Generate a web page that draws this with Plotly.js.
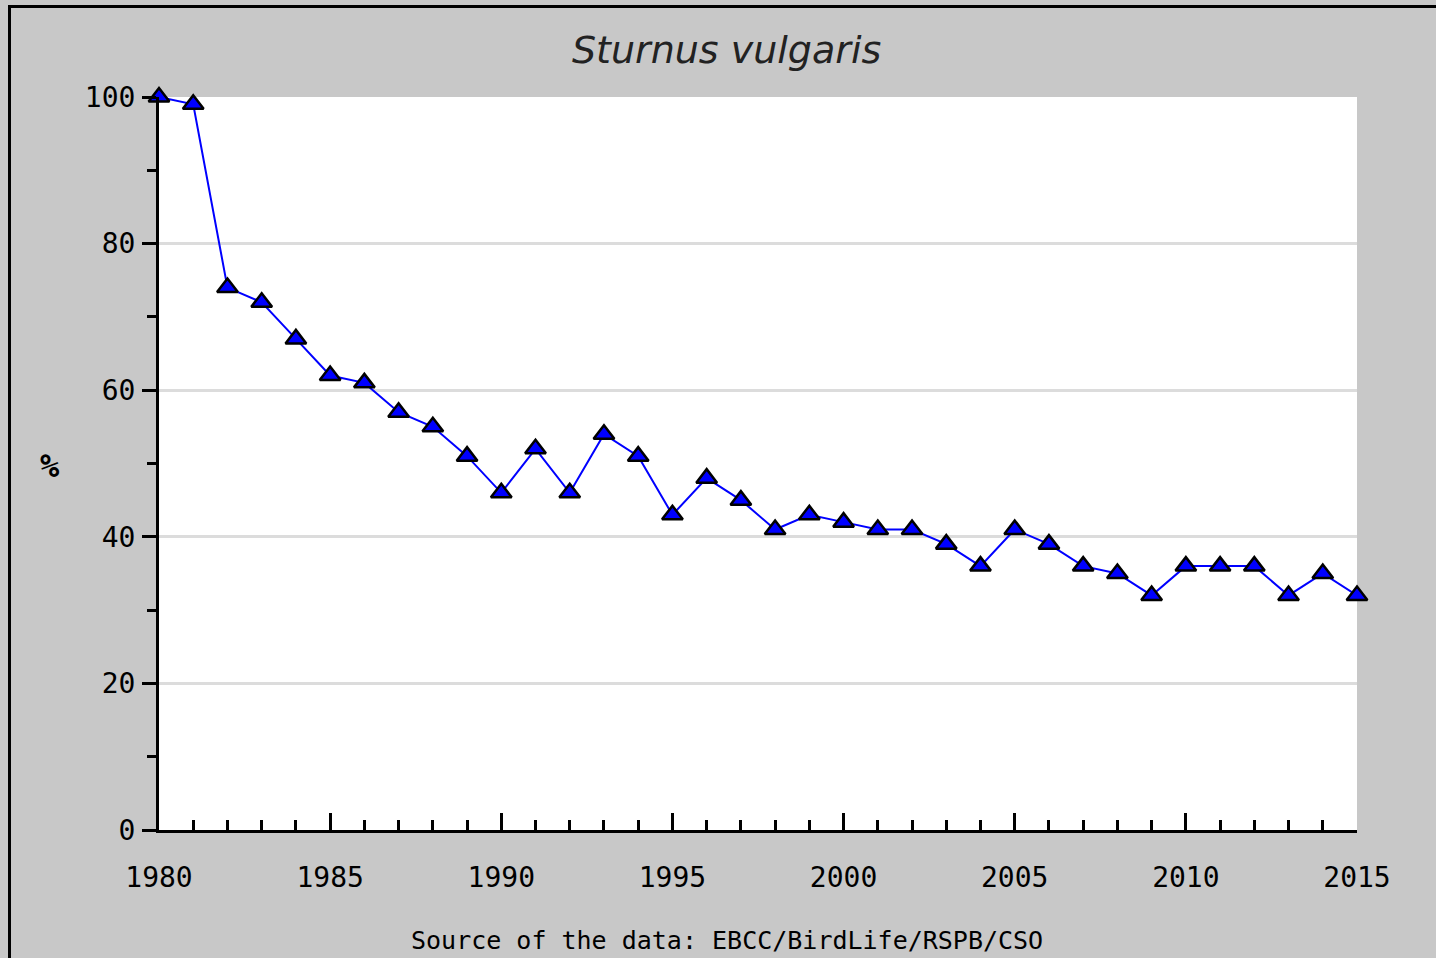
<!DOCTYPE html>
<html>
<head>
<meta charset="utf-8">
<script src="https://cdn.plot.ly/plotly-3.0.1.min.js"></script>
<style>
  body { margin: 0; background: #c8c8c8; }
  #wrap { position: relative; width: 1436px; height: 958px; overflow: hidden; }
  #chart { width: 1436px; height: 958px; }
  #frame { position: absolute; left: 8px; top: 5px; right: 0; bottom: 0;
           border-top: 3px solid #000; border-left: 3px solid #000; pointer-events: none; }
</style>
</head>
<body>
<div id="wrap">
  <div id="chart"></div>
  <div id="frame"></div>
</div>
<script>
// population index, % of 1980 level
const years = [1980, 1981, 1982, 1983, 1984, 1985, 1986, 1987, 1988, 1989,
               1990, 1991, 1992, 1993, 1994, 1995, 1996, 1997, 1998, 1999,
               2000, 2001, 2002, 2003, 2004, 2005, 2006, 2007, 2008, 2009,
               2010, 2011, 2012, 2013, 2014, 2015];
const index = [100, 99, 74, 72, 67, 62, 61, 57, 55, 51,
               46, 52, 46, 54, 51, 43, 48, 45, 41, 43,
               42, 41, 41, 39, 36, 41, 39, 36, 35, 32,
               36, 36, 36, 32, 35, 32];
const yTicks = [0, 20, 40, 60, 80, 100];
const xTicks = [1980, 1985, 1990, 1995, 2000, 2005, 2010, 2015];

const monoFont = "DejaVu Sans Mono, monospace";

const trace = {
  x: years,
  y: index,
  type: "scatter",
  mode: "lines+markers",
  cliponaxis: false,
  line: {color: "#0000ff", width: 2},
  marker: {symbol: "triangle-up", size: 18, color: "#0000ff",
           line: {color: "#000000", width: 2.5}}
};

const layout = {
  width: 1436,
  height: 958,
  paper_bgcolor: "#c8c8c8",
  plot_bgcolor: "#ffffff",
  margin: {l: 159, r: 79, t: 97, b: 128},
  showlegend: false,
  title: {
    text: "<i>Sturnus vulgaris</i>",
    font: {family: "DejaVu Sans, sans-serif", size: 38, color: "#222"},
    xref: "container", x: 0.506, xanchor: "center",
    yref: "container", y: 1 - 50 / 958, yanchor: "middle"
  },
  xaxis: {
    range: [1980, 2015],
    tickvals: xTicks,
    ticks: "inside", ticklen: 17, tickwidth: 3, tickcolor: "#000",
    minor: {dtick: 1, tick0: 1980, ticks: "inside", ticklen: 10, tickwidth: 3, tickcolor: "#000"},
    showline: true, linecolor: "#000", linewidth: 3,
    showgrid: false, zeroline: false,
    ticklabelstandoff: 20,
    tickfont: {family: monoFont, size: 28, color: "#000"}
  },
  yaxis: {
    range: [0, 100],
    tickvals: yTicks,
    ticks: "outside", ticklen: 14, tickwidth: 3, tickcolor: "#000",
    minor: {dtick: 10, tick0: 0, ticks: "outside", ticklen: 9, tickwidth: 3, tickcolor: "#000", showgrid: false},
    showline: true, linecolor: "#000", linewidth: 3,
    showgrid: true, gridcolor: "#dcdcdc", gridwidth: 3,
    zeroline: false,
    ticklabelstandoff: 1,
    tickfont: {family: monoFont, size: 28, color: "#000"}
  },
  annotations: [{
    // upright y-axis label
    text: "<b>%</b>",
    xref: "paper", yref: "paper",
    x: (50 - 159) / 1198, y: (830 - 466) / 733,
    xanchor: "center", yanchor: "middle",
    showarrow: false,
    font: {family: monoFont, size: 32, color: "#000"}
  }, {
    text: "Source of the data: EBCC/BirdLife/RSPB/CSO",
    xref: "paper", yref: "paper",
    x: (727 - 159) / 1198, y: -(940 - 830) / 733,
    xanchor: "center", yanchor: "middle",
    showarrow: false,
    font: {family: monoFont, size: 25, color: "#000"}
  }]
};

Plotly.newPlot("chart", [trace], layout, {displayModeBar: false, staticPlot: true});
</script>
</body>
</html>
